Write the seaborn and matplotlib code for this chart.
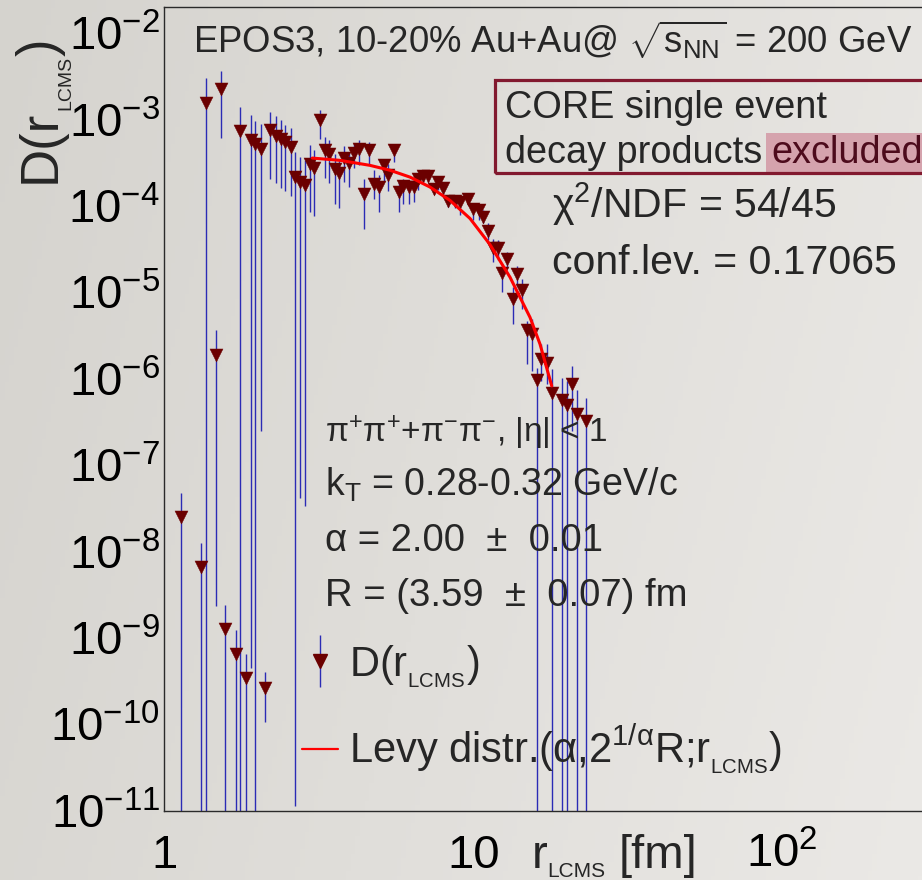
import numpy as np
import seaborn as sns
import matplotlib.pyplot as plt
from matplotlib.patches import Rectangle
from matplotlib.lines import Line2D
from matplotlib.legend_handler import HandlerTuple
from matplotlib.ticker import LogLocator, NullFormatter

W, H = 922, 880

# -----------------------------
# values
# -----------------------------
r_lcms = [1.130, 1.315, 1.365, 1.470, 1.522, 1.576, 1.702, 1.758, 1.838, 1.901,
          1.973, 2.051, 2.123, 2.198, 2.294, 2.381, 2.467, 2.565, 2.649, 2.749,
          2.853, 2.962, 3.062, 3.190, 3.312, 3.424, 3.568, 3.685, 3.815, 3.969,
          4.111, 4.267, 4.429, 4.597, 4.771, 4.964, 5.129, 5.315, 5.538, 5.735,
          5.935, 6.192, 6.428, 6.637, 6.889, 7.161, 7.445, 7.704, 7.996, 8.300,
          8.694, 9.023, 9.612, 10.00, 10.41, 10.77, 11.12, 11.61, 12.04, 12.41,
          12.88, 13.41, 13.88, 14.35, 14.96, 15.52, 16.11, 16.60, 17.36, 17.94,
          19.41, 20.06, 20.79, 21.61, 23.16]

d_val = [2.49e-8, 6.61e-9, 1.554e-3, 1.89e-6, 2.26e-3, 1.26e-9, 6.47e-10, 7.30e-4, 3.41e-10, 5.81e-4,
         5.16e-4, 4.60e-4, 2.66e-10, 7.49e-4, 6.50e-4, 5.94e-4, 5.48e-4, 4.76e-4, 2.16e-4, 1.90e-4,
         1.725e-4, 3.06e-4, 2.75e-4, 9.79e-4, 4.45e-4, 3.98e-4, 2.67e-4, 2.39e-4, 3.61e-4, 3.10e-4,
         4.05e-4, 4.51e-4, 1.357e-4, 4.39e-4, 1.805e-4, 1.635e-4, 2.98e-4, 2.28e-4, 4.45e-4, 1.457e-4,
         1.71e-4, 1.665e-4, 1.665e-4, 2.06e-4, 2.19e-4, 2.21e-4, 1.55e-4, 1.87e-4, 1.604e-4, 1.125e-4,
         1.125e-4, 1.11e-4, 1.202e-4, 9.25e-5, 8.91e-5, 7.47e-5, 5.11e-5, 3.27e-5, 3.23e-5, 1.675e-5,
         2.43e-5, 8.36e-6, 1.63e-5, 1.063e-5, 3.65e-6, 3.28e-6, 9.61e-7, 1.71e-6, 1.537e-6, 6.84e-7,
         5.63e-7, 4.93e-7, 8.70e-7, 3.90e-7, 3.20e-7]

# upper end of each error bar
d_hi = [4.77e-8, 1.27e-8, 2.98e-3, 3.65e-6, 3.62e-3, 2.38e-9, 1.23e-9, 1.385e-3, 6.47e-10, 1.119e-3,
        9.71e-4, 8.96e-4, 4.07e-10, 1.222e-3, 1.089e-3, 9.79e-4, 8.73e-4, 7.97e-4, 4.16e-4, 3.64e-4,
        3.36e-4, 5.02e-4, 4.47e-4, 1.302e-3, 6.33e-4, 5.74e-4, 4.02e-4, 3.42e-4, 4.89e-4, 4.09e-4,
        5.25e-4, 5.84e-4, 2.06e-4, 5.48e-4, 2.57e-4, 2.25e-4, 3.52e-4, 3.02e-4, 5.25e-4, 1.88e-4,
        2.06e-4, 1.97e-4, 2.06e-4, 2.36e-4, 2.57e-4, 2.46e-4, 1.805e-4, 2.01e-4, 1.77e-4, 1.262e-4,
        1.285e-4, 1.262e-4, 1.393e-4, 1.066e-4, 1.01e-4, 8.84e-5, 6.25e-5, 4.15e-5, 3.97e-5, 2.03e-5,
        2.90e-5, 1.14e-5, 2.03e-5, 1.426e-5, 4.68e-6, 4.90e-6, 1.345e-6, 2.51e-6, 2.51e-6, 1.289e-6,
        1.03e-6, 9.43e-7, 1.407e-6, 7.36e-7, 5.94e-7]

# lower end of each error bar (0 = bar runs through the bottom of the frame)
d_lo = [0, 0, 0, 2.31e-9, 6.17e-4, 0, 0, 0, 0, 4.45e-10,
        0, 2.48e-7, 1.05e-10, 2.06e-4, 1.83e-4, 1.62e-4, 1.48e-4, 1.30e-4, 1.14e-11, 4.18e-8,
        3.34e-8, 8.45e-5, 7.53e-5, 6.00e-4, 2.10e-4, 1.83e-4, 1.058e-4, 9.51e-5, 1.88e-4, 1.65e-4,
        2.72e-4, 2.94e-4, 5.42e-5, 3.08e-4, 1.209e-4, 8.45e-5, 1.88e-4, 1.47e-4, 3.21e-4, 8.45e-5,
        1.058e-4, 1.058e-4, 1.104e-4, 1.51e-4, 1.805e-4, 1.88e-4, 1.382e-4, 1.51e-4, 1.262e-4, 9.66e-5,
        9.33e-5, 7.74e-5, 1.01e-4, 6.77e-5, 6.77e-5, 6.25e-5, 3.97e-5, 2.22e-5, 2.33e-5, 9.97e-6,
        1.945e-5, 4.29e-6, 1.193e-5, 6.40e-6, 1.473e-6, 1.232e-6, 0, 9.43e-7, 8.63e-7, 0,
        0, 0, 2.48e-7, 0, 0]

# Levy fit curve
fit_r = [3.013, 3.704, 4.631, 5.376, 6.24, 7.24, 8.405, 9.757, 11.32, 13.15, 15.26, 16.44, 17.94]
fit_d = [3.57e-4, 3.36e-4, 2.94e-4, 2.58e-4, 2.15e-4, 1.65e-4, 1.156e-4, 7.14e-5, 3.57e-5,
         1.49e-5, 5.12e-6, 2.51e-6, 8.24e-7]

x_ticks = [1, 10, 100]
x_tick_labels = ["1", "10", r"$10^{2}$"]
y_ticks = [1e-11, 1e-10, 1e-9, 1e-8, 1e-7, 1e-6, 1e-5, 1e-4, 1e-3, 1e-2]
y_tick_labels = [r"$10^{-11}$", r"$10^{-10}$", r"$10^{-9}$", r"$10^{-8}$", r"$10^{-7}$",
                 r"$10^{-6}$", r"$10^{-5}$", r"$10^{-4}$", r"$10^{-3}$", r"$10^{-2}$"]

MARKER_COLOR = "#6b0000"
ERR_COLOR = "#2b2bb5"
BOX_COLOR = "#82192f"


def px(x, y):
    """image pixel -> figure fraction"""
    return x / W, 1 - y / H


def main():
    sns.set_style("white")
    plt.rcParams["font.family"] = ["Liberation Sans", "DejaVu Sans"]
    plt.rcParams["mathtext.fontset"] = "custom"
    plt.rcParams["mathtext.rm"] = "Liberation Sans"
    plt.rcParams["mathtext.it"] = "Liberation Sans:italic"
    plt.rcParams["mathtext.bf"] = "Liberation Sans:bold"
    plt.rcParams["mathtext.default"] = "regular"

    fig = plt.figure(figsize=(W / 100, H / 100), dpi=100)

    # paper-like grey gradient behind everything
    bg = fig.add_axes([0, 0, 1, 1], zorder=0)
    gx = np.linspace(0, 1, 200)
    gy = np.linspace(0, 1, 200)
    t = 0.8 * gx[None, :] + 0.2 * gy[:, None]
    left = np.array([213, 211, 206]) / 255
    right = np.array([235, 233, 230]) / 255
    grad = left[None, None, :] + t[:, :, None] * (right - left)[None, None, :]
    bg.imshow(grad, aspect="auto", extent=[0, 1, 0, 1], origin="upper")
    bg.axis("off")

    # main frame: x 1..300 (runs past the right edge), y 1e-11..2e-2
    x0, y0 = px(164.3, 810.7)
    _, y1 = px(0, 7)
    ax = fig.add_axes([x0, y0, 309 * np.log10(300) / W, y1 - y0], zorder=1)
    ax.set_facecolor("none")
    ax.set_xscale("log")
    ax.set_yscale("log")

    # error bars
    d = np.array(d_val)
    yerr = [d - np.array(d_lo), np.array(d_hi) - d]
    ax.errorbar(r_lcms, d_val, yerr=yerr, fmt="none", ecolor=ERR_COLOR,
                elinewidth=1.0, capsize=0, zorder=2)

    # markers
    sns.scatterplot(x=r_lcms, y=d_val, ax=ax, marker="v", s=88, color=MARKER_COLOR,
                    edgecolor=MARKER_COLOR, linewidth=0.3, zorder=3, legend=False)

    # fit curve
    sns.lineplot(x=fit_r, y=fit_d, ax=ax, color="red", linewidth=2.2, zorder=4,
                 sort=False, legend=False)

    # axes styling (ROOT look: ticks inside, no grid)
    for side in ["left", "bottom", "top", "right"]:
        ax.spines[side].set_color("#2a2a2a")
        ax.spines[side].set_linewidth(1.0)
    ax.set_yticks(y_ticks, y_tick_labels)
    ax.yaxis.set_minor_locator(LogLocator(base=10, subs=np.arange(2, 10), numticks=30))
    ax.yaxis.set_minor_formatter(NullFormatter())
    ax.set_xticks(x_ticks, x_tick_labels, va="baseline")
    ax.xaxis.set_minor_locator(LogLocator(base=10, subs=np.arange(2, 10), numticks=30))
    ax.xaxis.set_minor_formatter(NullFormatter())
    ax.set_xlim(1, 300)
    ax.set_ylim(1e-11, 2e-2)
    ax.tick_params(axis="y", which="major", direction="in", length=18, width=0.9,
                   labelsize=34, pad=3, colors="#222222")
    ax.tick_params(axis="y", which="minor", direction="in", length=9, width=0.9, colors="#222222")
    ax.tick_params(axis="x", which="major", direction="in", length=16, width=0.9,
                   labelsize=34, pad=41, colors="#222222")
    ax.tick_params(axis="x", which="minor", direction="in", length=8.5, width=0.9, colors="#222222")
    ax.tick_params(labelcolor="black")

    # y axis title, ROOT style: tiny subscript set low
    fig.text(*px(55, 183), "D(r", rotation=90, rotation_mode="anchor",
             ha="left", va="baseline", fontsize=38)
    fig.text(*px(70, 110), "LCMS", rotation=90, rotation_mode="anchor",
             ha="left", va="baseline", fontsize=14)
    fig.text(*px(55, 56), ")", rotation=90, rotation_mode="anchor",
             ha="left", va="baseline", fontsize=38)

    # x axis title
    fig.text(*px(532, 868), "r", ha="left", va="baseline", fontsize=34)
    fig.text(*px(547, 877), "LCMS", ha="left", va="baseline", fontsize=15)
    fig.text(*px(619, 868), "[fm]", ha="left", va="baseline", fontsize=34)

    # header
    fig.text(*px(193, 53), r"EPOS3, 10-20% Au+Au@ $\sqrt{s_{\rm NN}}$ = 200 GeV",
             ha="left", va="baseline", fontsize=26.3)

    # framed note
    fig.add_artist(Rectangle(px(766, 172), (960 - 766) / W, 39 / H, transform=fig.transFigure,
                             facecolor="#d5a3ad", edgecolor="none", zorder=5))
    fig.add_artist(Rectangle(px(495, 173), (960 - 495) / W, 93 / H, transform=fig.transFigure,
                             facecolor="none", edgecolor=BOX_COLOR, linewidth=2.3, zorder=6))
    fig.text(*px(505, 118), "CORE single event", fontsize=27.3, va="baseline", zorder=7)
    fig.text(*px(505, 163), "decay products", fontsize=27.3, va="baseline", zorder=7)
    fig.text(*px(771, 163), "excluded", fontsize=27.3, va="baseline", color="#4d0b1c", zorder=7)

    # fit quality
    fig.text(*px(552, 218), r"$\chi^{2}$/NDF = 54/45", fontsize=29.5, va="baseline")
    fig.text(*px(552, 274), "conf.lev. = 0.17065", fontsize=29.5, va="baseline")

    # fit parameters
    fig.text(*px(325, 442), r"$\pi^{+}\pi^{+}$+$\pi^{-}\pi^{-}$, |$\eta$| < 1", fontsize=24, va="baseline")
    fig.text(*px(325, 496), r"k$_{\rm T}$ = 0.28-0.32 GeV/c", fontsize=27, va="baseline")
    fig.text(*px(325, 551), "\u03b1 = 2.00  \u00b1  0.01", fontsize=27.5, va="baseline")
    fig.text(*px(325, 606), "R = (3.59  \u00b1  0.07) fm", fontsize=27.5, va="baseline")

    # legend
    bar_handle = Line2D([], [], marker="|", markersize=38, markeredgewidth=1.0,
                        color=ERR_COLOR, linestyle="none")
    tri_handle = Line2D([], [], marker="v", markersize=9.5, color=MARKER_COLOR,
                        linestyle="none")
    fit_handle = Line2D([], [], color="red", linewidth=1.6)
    ax.legend([(bar_handle, tri_handle), fit_handle],
              [r"D(r$_{_{\rm LCMS}}$)", r"Levy distr.($\alpha$,2$^{1/\alpha}$R;r$_{_{\rm LCMS}}$)"],
              handler_map={tuple: HandlerTuple(ndivide=1)},
              loc="upper left", bbox_to_anchor=px(302, 643), bbox_transform=fig.transFigure,
              frameon=False, fontsize=30, handlelength=0.87, handletextpad=0.25,
              labelspacing=0.8, borderpad=0, borderaxespad=0)

    fig.savefig("out.png", dpi=100)
    plt.close(fig)


if __name__ == "__main__":
    main()
